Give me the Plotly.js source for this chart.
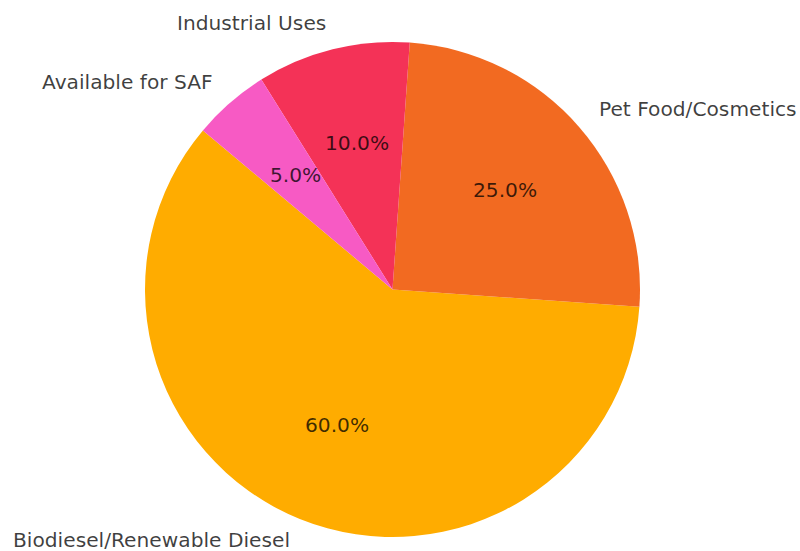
<!DOCTYPE html>
<html>
<head>
<meta charset="utf-8">
<script src="https://cdn.plot.ly/plotly-3.0.1.min.js"></script>
<style>html,body{margin:0;padding:0;background:#fff;}#chart{width:800px;height:551px;}</style>
</head>
<body>
<div id="chart"></div>
<script>
// Data
const labels = ["Biodiesel/Renewable Diesel", "Pet Food/Cosmetics", "Industrial Uses", "Available for SAF"];
const values = [60, 25, 10, 5];
const colors = ["#FFAC00", "#F26A21", "#F43257", "#F75AC4"];

// Geometry (pixels)
const W = 800, H = 551;
const cx = 392.5, cy = 289.5, R = 247.5;
const startAngle = 140; // degrees, counterclockwise from 3 o'clock

const domainX = [(cx - R) / W, (cx + R) / W];
const domainY = [(H - cy - R) / H, (H - cy + R) / H];

const total = values.reduce((a, b) => a + b, 0);
const annotations = [];
let a0 = startAngle;
const textFont = {family: "DejaVu Sans, sans-serif", size: 20.2, color: "rgba(0,0,0,0.75)"};
values.forEach((v, i) => {
  const span = v / total * 360;
  const mid = (a0 + span / 2) * Math.PI / 180;
  const dx = Math.cos(mid), dy = Math.sin(mid);
  // outer label at 1.1 R
  const lx = cx + 1.1 * R * dx, ly = cy - 1.1 * R * dy;
  annotations.push({
    xref: "paper", yref: "paper",
    x: lx / W, y: (H - ly) / H,
    text: labels[i], showarrow: false,
    xanchor: dx > 0 ? "left" : "right", yanchor: "middle",
    yshift: 2,
    font: textFont, borderpad: 0
  });
  // percent at 0.6 R
  const px = cx + 0.6 * R * dx, py = cy - 0.6 * R * dy;
  annotations.push({
    xref: "paper", yref: "paper",
    x: px / W, y: (H - py) / H,
    text: (v / total * 100).toFixed(1) + "%", showarrow: false,
    xanchor: "center", yanchor: "middle",
    yshift: 2,
    font: textFont, borderpad: 0
  });
  a0 += span;
});

// Plotly (counterclockwise): rotation marks the ccw-end of the first slice, clockwise from 12 o'clock
const firstEnd = startAngle + values[0] / total * 360;
const trace = {
  type: "pie",
  labels: labels,
  values: values,
  sort: false,
  direction: "counterclockwise",
  rotation: 90 - firstEnd,
  marker: {colors: colors, line: {width: 0}},
  textinfo: "none",
  hoverinfo: "label+percent",
  domain: {x: domainX, y: domainY},
  showlegend: false
};

const layout = {
  width: W, height: H,
  margin: {l: 0, r: 0, t: 0, b: 0},
  paper_bgcolor: "#ffffff",
  showlegend: false,
  annotations: annotations,
  font: {family: "DejaVu Sans, sans-serif"}
};

Plotly.newPlot("chart", [trace], layout, {displayModeBar: false, staticPlot: true});
</script>
</body>
</html>
